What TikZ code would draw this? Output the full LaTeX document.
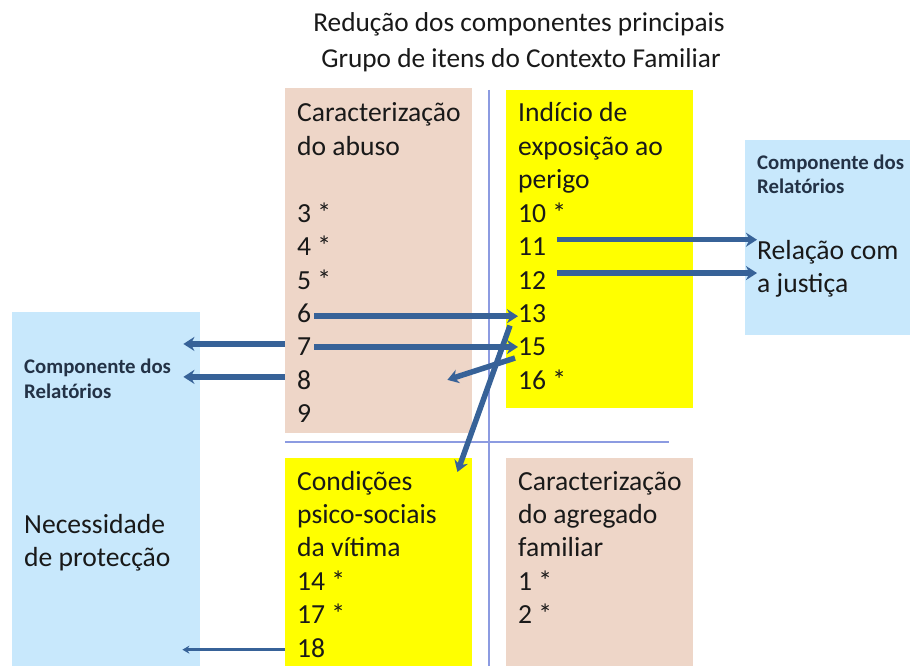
\documentclass[tikz,border=0pt]{standalone}
\usepackage{fontspec}
\setmainfont{Carlito}
\usetikzlibrary{arrows.meta,calc}
\definecolor{beige}{RGB}{238,214,200}
\definecolor{ylw}{RGB}{255,255,0}
\definecolor{lblu}{RGB}{200,232,252}
\definecolor{divc}{RGB}{140,155,225}
\definecolor{arrc}{RGB}{55,98,152}
\definecolor{txtc}{RGB}{25,25,25}
\definecolor{lblc}{RGB}{35,50,70}
\begin{document}
\begin{tikzpicture}[x=1pt,y=-1pt,
  box/.style={draw=none, inner sep=0, anchor=north west},
  itm/.style={inner sep=0, anchor=base west, font=\fontsize{27.6}{33}\selectfont, text=txtc},
  lbl/.style={inner sep=0, anchor=base west, font=\fontsize{20.8}{25}\selectfont\bfseries, text=lblc},
  ttl/.style={inner sep=0, anchor=base, font=\fontsize{27.3}{33}\selectfont, text=txtc},
  arr/.style={draw=arrc, line width=5.5pt, -{Stealth[length=11pt,width=14pt]}},
  thinarr/.style={draw=arrc, line width=3pt, -{Stealth[length=7pt,width=8pt]}},
  divline/.style={draw=divc, line width=1.2pt}]
\useasboundingbox[fill=white] (0,0) rectangle (910,666);

% boxes
\node[box, fill=beige, minimum width=187pt, minimum height=345pt] (tl) at (285,88) {};
\node[box, fill=ylw, minimum width=187pt, minimum height=318pt] (tr) at (506,90) {};
\node[box, fill=ylw, minimum width=187pt, minimum height=208pt] (bl) at (285,458) {};
\node[box, fill=beige, minimum width=187pt, minimum height=208pt] (br) at (506,458) {};
\node[box, fill=lblu, minimum width=188pt, minimum height=354pt] (lb) at (12,312) {};
\node[box, fill=lblu, minimum width=165pt, minimum height=195pt] (rb) at (745,140) {};

% dividers
\coordinate (vt) at (489,90);
\coordinate (vb) at (489,666);
\coordinate (hl) at (285,442);
\coordinate (hr) at (669,442);
\draw[divline] (vt) -- (vb);
\draw[divline] (hl) -- (hr);

% title
\node[ttl] (t1) at (519,32) {Redução dos componentes principais};
\node[ttl] (t2) at (521,68) {Grupo de itens do Contexto Familiar};

% top-left
\node[itm] (a0) at (297,122) {Caracterização};
\node[itm] (a1) at (297,155.4) {do abuso};
\node[itm] (i3) at (297,222.2) {3 *};
\node[itm] (i4) at (297,255.6) {4 *};
\node[itm] (i5) at (297,289) {5 *};
\node[itm] (i6) at (297,322.4) {6};
\node[itm] (i7) at (297,355.8) {7};
\node[itm] (i8) at (297,389.2) {8};
\node[itm] (i9) at (297,422.6) {9};

% top-right
\node[itm] (b0) at (518,122) {Indício de};
\node[itm] (b1) at (518,155.4) {exposição ao};
\node[itm] (b2) at (518,188.8) {perigo};
\node[itm] (i10) at (518,222.2) {10 *};
\node[itm] (i11) at (518,255.6) {11};
\node[itm] (i12) at (518,289) {12};
\node[itm] (i13) at (518,322.4) {13};
\node[itm] (i15) at (518,355.8) {15};
\node[itm] (i16) at (518,389.2) {16 *};

% bottom-left
\node[itm] (c0) at (297,490) {Condições};
\node[itm] (c1) at (297,523.4) {psico-sociais};
\node[itm] (c2) at (297,556.8) {da vítima};
\node[itm] (i14) at (297,590.2) {14 *};
\node[itm] (i17) at (297,623.6) {17 *};
\node[itm] (i18) at (297,657) {18};

% bottom-right
\node[itm] (d0) at (518,490) {Caracterização};
\node[itm] (d1) at (518,523.4) {do agregado};
\node[itm] (d2) at (518,556.8) {familiar};
\node[itm] (i1) at (518,590.2) {1 *};
\node[itm] (i2) at (518,623.6) {2 *};

% left blue
\node[lbl] (l0) at (24,373) {Componente dos};
\node[lbl] (l1) at (24,398) {Relatórios};
\node[itm] (n0) at (24,533) {Necessidade};
\node[itm] (n1) at (24,566) {de protecção};

% right blue
\node[lbl] (r0) at (757,169) {Componente dos};
\node[lbl] (r1) at (757,193) {Relatórios};
\node[itm] (q0) at (757,259) {Relação com};
\node[itm] (q1) at (757,292) {a justiça};

% arrows
\coordinate (s11) at ($(i11.east)+(11,-7)$);
\coordinate (s12) at ($(i12.east)+(11,-7)$);
\draw[arr] (s11) -- (s11 -| q0.west);
\draw[arr] (s12) -- (s12 -| q0.west);
\coordinate (s6) at ($(i6.east)+(3,3)$);
\coordinate (s7) at ($(i7.east)+(3,0)$);
\draw[arr] (s6) -- (s6 -| i13.west);
\draw[arr] (s7) -- (s7 -| i15.west);
\draw[arr] ($(tl.west |- i7.west)+(0,-3)$) -- ($(lb.east |- i7.west)+(-17,-3)$);
\draw[arr] ($(tl.west |- i8.west)+(0,-3)$) -- ($(lb.east |- i8.west)+(-17,-3)$);
\draw[thinarr] ($(bl.west |- i18.west)+(0,2)$) -- ($(lb.east |- i18.west)+(-18,2)$);
\draw[arr] ($(i15.west)+(-3,11)$) -- ($(i8.east)+(136,0)$);
\draw[arr] ($(i13.west)+(-8,12)$) -- ($(bl.north east)+(-15,14)$);
\end{tikzpicture}
\end{document}
